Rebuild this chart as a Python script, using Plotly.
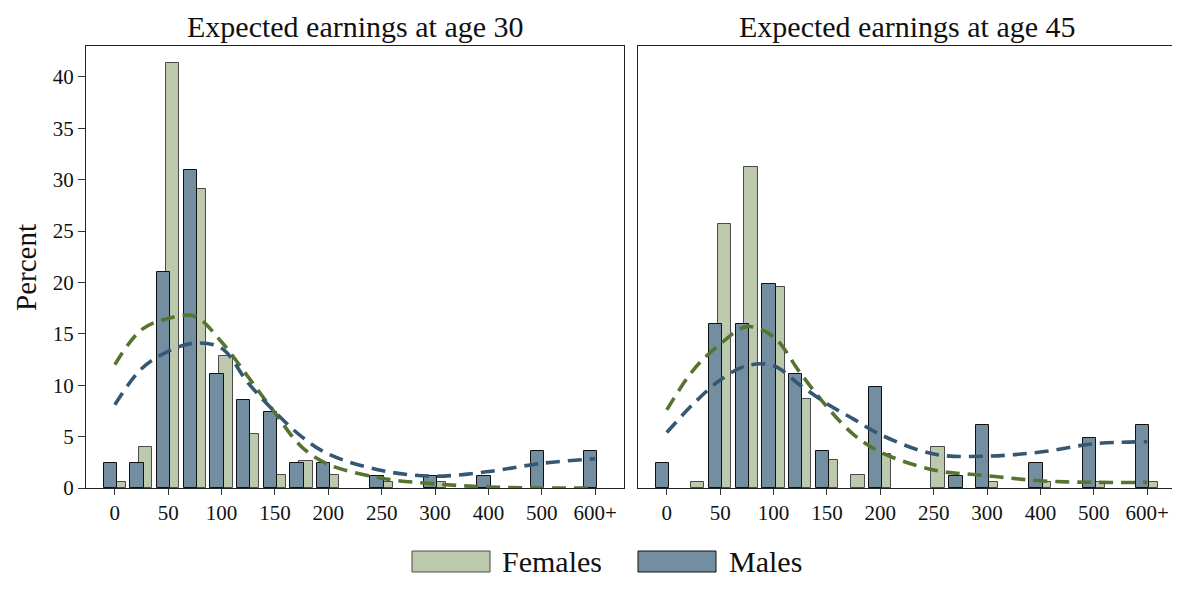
import plotly.graph_objects as go

# Axis slots (evenly spaced half-steps between labelled ticks)
slots = ["0", "25", "50", "75", "100", "125", "150", "175", "200", "225",
         "250", "275", "300", "350", "400", "450", "500", "550", "600+"]
tick_labels = ["0", "50", "100", "150", "200", "250", "300", "400", "500", "600+"]

panel_titles = ["Expected earnings at age 30", "Expected earnings at age 45"]

# Age 30 histogram (percent)
a30_f_bins = ["0", "25", "50", "75", "100", "125", "150", "175", "200", "250", "300"]
a30_f_vals = [0.6, 4.0, 41.3, 29.1, 12.8, 5.3, 1.3, 2.6, 1.3, 0.6, 0.6]
a30_m_bins = ["0", "25", "50", "75", "100", "125", "150", "175", "200", "250", "300", "400", "500", "600+"]
a30_m_vals = [2.4, 2.4, 21.0, 30.9, 11.1, 8.6, 7.4, 2.4, 2.4, 1.2, 1.2, 1.2, 3.6, 3.6]

# Age 45 histogram (percent)
a45_f_bins = ["25", "50", "75", "100", "125", "150", "175", "200", "250", "300", "400", "500", "600+"]
a45_f_vals = [0.6, 25.7, 31.2, 19.6, 8.7, 2.7, 1.3, 3.3, 4.0, 0.6, 0.6, 0.6, 0.6]
a45_m_bins = ["0", "50", "75", "100", "125", "150", "200", "275", "300", "400", "500", "600+"]
a45_m_vals = [2.4, 16.0, 16.0, 19.8, 11.1, 3.6, 9.8, 1.2, 6.1, 2.4, 4.9, 6.1]

# Smoothed density curves (percent)
curve_bins = ["0", "25", "50", "75", "100", "125", "150", "175", "200", "250", "300", "400", "500", "600+"]
a30_f_curve = [12.0, 15.4, 16.5, 16.7, 14.2, 10.8, 7.3, 4.0, 2.3, 0.95, 0.4, 0.1, 0.0, 0.0]
a30_m_curve = [8.1, 11.6, 13.3, 14.1, 13.6, 10.2, 7.4, 5.0, 3.3, 1.7, 1.15, 1.6, 2.4, 2.85]
a45_f_curve = [7.6, 11.5, 14.0, 15.7, 14.7, 11.2, 7.9, 5.2, 3.5, 1.75, 1.2, 0.7, 0.55, 0.55]
a45_m_curve = [5.4, 8.2, 10.5, 11.9, 11.9, 10.0, 8.2, 6.7, 5.2, 3.3, 3.1, 3.5, 4.3, 4.5]

F_FILL = "#bdc9ac"
M_FILL = "#738ea1"
F_LINE = "#56742f"
M_LINE = "#345873"
FONT = "Liberation Serif"

def pos(labels):
    # slot index scaled so that labelled ticks are one unit apart
    return [slots.index(b) / 2 for b in labels]

tick_pos = pos(tick_labels)

fig = go.Figure()
panels = [
    (a30_f_bins, a30_f_vals, a30_m_bins, a30_m_vals, a30_f_curve, a30_m_curve, "x", "y"),
    (a45_f_bins, a45_f_vals, a45_m_bins, a45_m_vals, a45_f_curve, a45_m_curve, "x2", "y2"),
]
BW = 0.25
for fb, fv, mb, mv, fc, mc, xa, ya in panels:
    fig.add_trace(go.Bar(x=pos(fb), y=fv, width=BW, offset=-0.045,
                         marker=dict(color=F_FILL, line=dict(color="#4a4a4a", width=1)),
                         xaxis=xa, yaxis=ya, showlegend=False))
    fig.add_trace(go.Bar(x=pos(mb), y=mv, width=BW, offset=-0.21,
                         marker=dict(color=M_FILL, line=dict(color="#111111", width=1)),
                         xaxis=xa, yaxis=ya, showlegend=False))
    fig.add_trace(go.Scatter(x=pos(curve_bins), y=fc, mode="lines",
                             line=dict(color=F_LINE, width=3.6, dash="14px,8px", shape="spline", smoothing=1),
                             xaxis=xa, yaxis=ya, showlegend=False))
    fig.add_trace(go.Scatter(x=pos(curve_bins), y=mc, mode="lines",
                             line=dict(color=M_LINE, width=3.6, dash="14px,8px", shape="spline", smoothing=1),
                             xaxis=xa, yaxis=ya, showlegend=False))

OFF = 8  # page body margin offset
W, H = 1180 - OFF, 590 - OFF
L = 86 - OFF
R = W - (1176 - OFF)
T = round(46.5 - OFF)
B = H - round(488.5 - OFF)
pw = W - L - R
ph = H - T - B
d1 = (624 - OFF - L) / pw
d2 = (638 - OFF - L) / pw

def px(x):
    return (x - OFF - L) / pw

def py(y):
    return (H - B - (y - OFF)) / ph

axis_common = dict(showgrid=False, zeroline=False, showline=True, mirror=True,
                   linecolor="#222222", linewidth=1)
xcommon = dict(axis_common, range=[-0.54, 9.54], tickmode="array", tickvals=tick_pos,
               ticktext=tick_labels, ticks="outside", ticklen=6, tickcolor="#333333",
               tickfont=dict(family=FONT, size=21, color="#111111"))
fig.update_layout(
    width=W, height=H,
    margin=dict(l=L, r=R, t=T, b=B),
    paper_bgcolor="white", plot_bgcolor="white",
    barmode="overlay", bargap=0,
    font=dict(family=FONT, color="#111111"),
    xaxis=dict(xcommon, domain=[0, d1], anchor="y"),
    xaxis2=dict(xcommon, domain=[d2, 1], anchor="y2"),
    yaxis=dict(axis_common, range=[0, 43], tickvals=[0, 5, 10, 15, 20, 25, 30, 35, 40],
               ticks="outside", ticklen=7, tickcolor="#333333",
               tickfont=dict(family=FONT, size=21, color="#111111"), anchor="x"),
    yaxis2=dict(axis_common, range=[0, 43], showticklabels=False, ticks="", anchor="x2",
                matches="y"),
)

ann = []
for i, t in enumerate(panel_titles):
    cx = (0 + d1) / 2 if i == 0 else (d2 + 1) / 2
    ann.append(dict(text=t, x=cx, y=py(27), xref="paper", yref="paper", showarrow=False,
                    xanchor="center", yanchor="middle", font=dict(family=FONT, size=30)))
ann.append(dict(text="Percent", x=px(26), y=py(268), xref="paper", yref="paper",
                showarrow=False, textangle=-90, xanchor="center", yanchor="middle",
                font=dict(family=FONT, size=29)))
# legend
legend_items = [("Females", F_FILL, "#4a4a4a", 412, 490, 500), ("Males", M_FILL, "#111111", 638, 716, 727)]
shapes = []
for name, fill, edge, x0, x1, tx in legend_items:
    shapes.append(dict(type="rect", xref="paper", yref="paper", x0=px(x0), x1=px(x1),
                       y0=py(572), y1=py(551), fillcolor=fill, line=dict(color=edge, width=1)))
    ann.append(dict(text=name, x=px(tx), y=py(561), xref="paper", yref="paper", showarrow=False,
                    xanchor="left", yanchor="middle", font=dict(family=FONT, size=30)))
# outer faint frame
shapes.append(dict(type="rect", xref="paper", yref="paper", x0=px(7), x1=px(1190),
                   y0=py(600), y1=py(4), line=dict(color="#e6ecee", width=1.5), layer="below"))
fig.update_layout(annotations=ann, shapes=shapes)

fig.write_html("out.html")
